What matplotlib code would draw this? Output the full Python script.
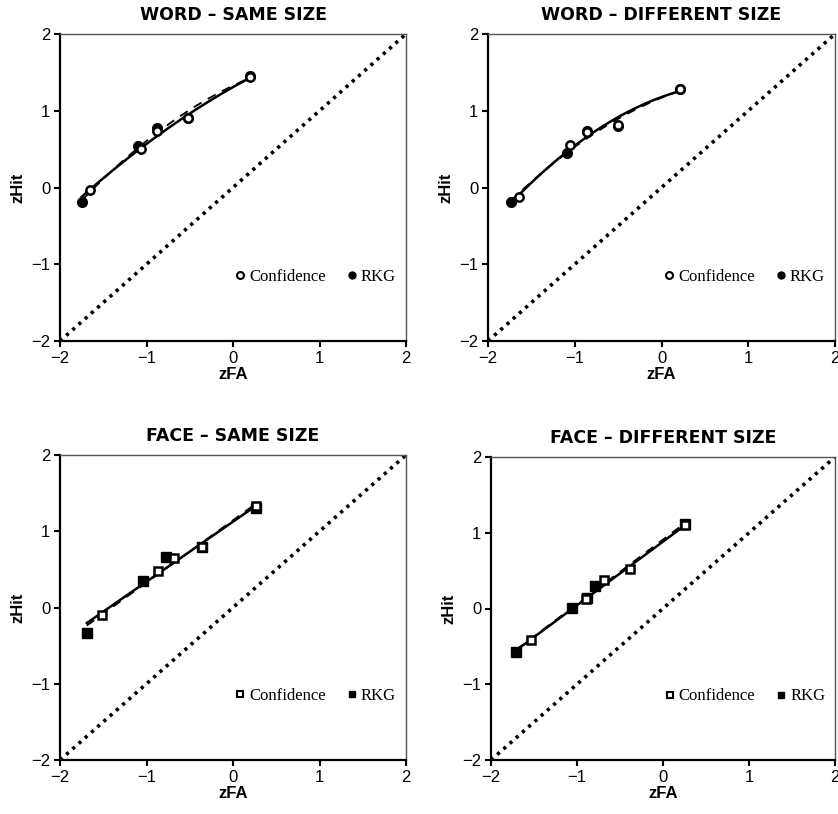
import numpy as np
import matplotlib.pyplot as plt

# panel titles
titles = ["WORD \u2013 SAME SIZE", "WORD \u2013 DIFFERENT SIZE",
          "FACE \u2013 SAME SIZE", "FACE \u2013 DIFFERENT SIZE"]

# zFA / zHit points
conf_x = [[-1.65, -1.06, -0.88, -0.52, 0.20],
          [-1.64, -1.05, -0.86, -0.50, 0.21],
          [-1.51, -0.87, -0.68, -0.36, 0.27],
          [-1.53, -0.89, -0.69, -0.38, 0.26]]
conf_y = [[-0.03, 0.50, 0.73, 0.90, 1.44],
          [-0.12, 0.55, 0.72, 0.81, 1.28],
          [-0.10, 0.48, 0.65, 0.79, 1.33],
          [-0.42, 0.13, 0.37, 0.52, 1.10]]
rkg_x = [[-1.75, -1.10, -0.88, -0.52, 0.20],
         [-1.74, -1.09, -0.86, -0.50, 0.21],
         [-1.69, -1.04, -0.78, -0.36, 0.27],
         [-1.71, -1.06, -0.88, -0.79, 0.26]]
rkg_y = [[-0.19, 0.54, 0.78, 0.90, 1.45],
         [-0.19, 0.45, 0.73, 0.80, 1.28],
         [-0.34, 0.35, 0.66, 0.80, 1.31],
         [-0.57, 0.01, 0.14, 0.30, 1.11]]
fit_deg = [2, 2, 1, 1]
markers = ["o", "o", "s", "s"]
ticks = [-2, -1, 0, 1, 2]

fig = plt.figure(figsize=(8.38, 8.14), dpi=100)
boxes = [(60, 34, 406, 341), (488, 34, 835, 341),
         (60, 455, 406, 760), (491, 457, 835, 760)]
W, H = 838, 814

for i in range(4):
    l, t, r, b = boxes[i]
    ax = fig.add_axes([l / W, 1 - b / H, (r - l) / W, (b - t) / H])
    ax.set_xlim(-2, 2)
    ax.set_ylim(-2, 2)
    ax.plot([-2, 2], [-2, 2], color="black", lw=2.6, linestyle=(0, (0.9, 1.4)), zorder=1)

    # fitted curves
    cx = np.array(conf_x[i]); cy = np.array(conf_y[i])
    rx = np.array(rkg_x[i]); ry = np.array(rkg_y[i])
    pc = np.polyfit(cx, cy, fit_deg[i])
    pr = np.polyfit(rx, ry, fit_deg[i])
    xs = np.linspace(min(cx.min(), rx.min()), cx.max(), 100)
    ax.plot(xs, np.polyval(pc, xs), color="black", lw=1.8, zorder=2)
    xs = np.linspace(rx.min(), rx.max(), 100)
    ax.plot(xs, np.polyval(pr, xs), color="black", lw=1.3, dashes=(5, 4), zorder=2)

    m = markers[i]
    ax.plot(rkg_x[i], rkg_y[i], m, color="black", ms=7, mec="black", label="RKG", zorder=3)
    ax.plot(conf_x[i], conf_y[i], m, color="white", ms=6, mec="black", mew=1.8,
            label="Confidence", zorder=4)

    handles, labels = ax.get_legend_handles_labels()
    hc = ax.plot([], [], m, color="white", ms=5, mec="black", mew=1.5)[0]
    hr = ax.plot([], [], m, color="black", ms=5, mec="black")[0]
    ax.legend([hc, hr], ["Confidence", "RKG"], ncol=2, frameon=False,
              loc="center", bbox_to_anchor=(0.74, 0.21),
              handlelength=0.5, handletextpad=0.3, columnspacing=1.3,
              prop={"family": "Liberation Serif", "size": 12})

    ax.set_xticks(ticks)
    ax.set_yticks(ticks)
    ax.set_xticklabels([str(v).replace("-", "\u2212") for v in ticks],
                       family="Liberation Sans", fontsize=12)
    ax.set_yticklabels([str(v).replace("-", "\u2212") for v in ticks],
                       family="Liberation Sans", fontsize=12)
    ax.tick_params(direction="out", length=4, width=1.5, pad=3)
    for s in ["left", "bottom"]:
        ax.spines[s].set_linewidth(1.6)
        ax.spines[s].set_color("black")
    for s in ["top", "right"]:
        ax.spines[s].set_linewidth(1.0)
        ax.spines[s].set_color("#555555")
    ax.set_xlabel("zFA", family="Liberation Sans", fontweight="bold", fontsize=12, labelpad=1)
    ax.set_ylabel("zHit", family="Liberation Sans", fontweight="bold", fontsize=12, labelpad=4)
    ax.set_title(titles[i], family="DejaVu Sans", fontweight="bold", fontsize=12.5, pad=10)

fig.savefig("out.png", dpi=100)
